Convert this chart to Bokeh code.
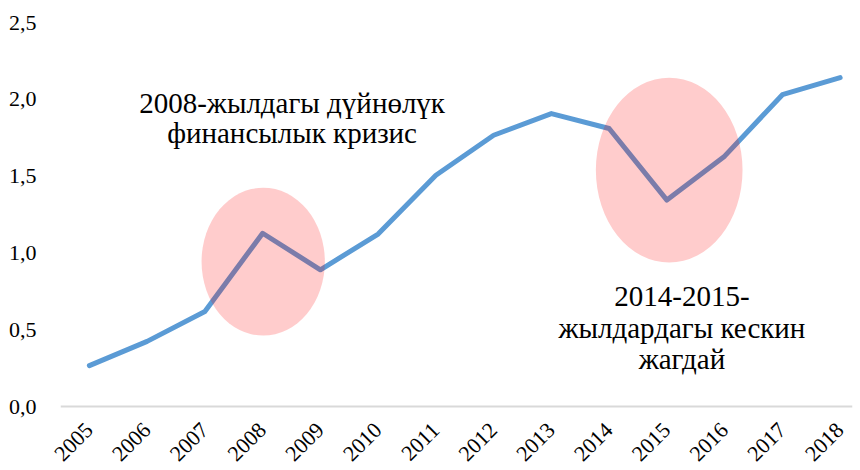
import math
from bokeh.plotting import figure
from bokeh.models import ColumnDataSource, FixedTicker, Range1d, Span
from bokeh.core.properties import value
from bokeh.embed import file_html
from bokeh.resources import INLINE

# ---- data ----
years = [2005, 2006, 2007, 2008, 2009, 2010, 2011, 2012, 2013, 2014, 2015, 2016, 2017, 2018]
values = [0.266, 0.424, 0.619, 1.128, 0.890, 1.123, 1.506, 1.766, 1.907, 1.810, 1.344, 1.630, 2.030, 2.141]
y_ticks = [0.0, 0.5, 1.0, 1.5, 2.0, 2.5]
y_tick_labels = ["0,0", "0,5", "1,0", "1,5", "2,0", "2,5"]

# highlighted periods (ellipses) in data units
ell_x = [2008.01, 2015.04]
ell_y = [0.943, 1.539]
ell_w = [2.135, 2.54]
ell_h = [0.963, 1.203]

# annotation text lines
note_lines = ["2008-жылдагы дүйнөлүк", "финансылык кризис",
              "2014-2015-", "жылдардагы кескин", "жагдай"]
note_x = [2008.51, 2008.51, 2015.26, 2015.26, 2015.26]
note_y = [1.974, 1.779, 0.714, 0.513, 0.312]

FONT = "Liberation Serif"

p = figure(width=860, height=470, output_backend="svg", toolbar_location=None,
           x_range=Range1d(2004.5, 2018.214), y_range=Range1d(-0.052, 2.5),
           min_border_left=60, min_border_right=8, min_border_top=22, min_border_bottom=55)
p.outline_line_color = None
p.background_fill_color = "white"
p.border_fill_color = "white"
p.xgrid.visible = False
p.ygrid.visible = False

# y axis
p.yaxis.ticker = FixedTicker(ticks=y_ticks)
p.yaxis.major_label_overrides = {t: l for t, l in zip(y_ticks, y_tick_labels)}
p.yaxis.axis_line_color = None
p.yaxis.major_tick_line_color = None
p.yaxis.minor_tick_line_color = None
p.yaxis.major_label_standoff = 18
p.yaxis.major_label_text_font = FONT
p.yaxis.major_label_text_font_size = "22px"
p.yaxis.major_label_text_color = "#000000"

# x axis
p.xaxis.ticker = FixedTicker(ticks=years)
p.xaxis.major_label_overrides = {y: str(y) for y in years}
p.xaxis.axis_line_color = None
p.xaxis.major_tick_line_color = None
p.xaxis.minor_tick_line_color = None
p.xaxis.major_label_orientation = math.pi / 4
p.xaxis.major_label_standoff = 6
p.xaxis.major_label_text_font = FONT
p.xaxis.major_label_text_font_size = "22px"
p.xaxis.major_label_text_color = "#000000"

# horizontal axis line at zero
p.add_layout(Span(location=0, dimension="width", line_color="#d9d9d9", line_width=2))

src = ColumnDataSource(dict(x=years, y=values))
p.line("x", "y", source=src, line_color="#5b9bd5", line_width=5,
       line_cap="round", line_join="round")

esrc = ColumnDataSource(dict(x=ell_x, y=ell_y, w=ell_w, h=ell_h))
p.ellipse(x="x", y="y", width="w", height="h", source=esrc,
          fill_color="#ff0000", fill_alpha=0.2, line_color=None)

tsrc = ColumnDataSource(dict(x=note_x, y=note_y, t=note_lines))
p.text(x="x", y="y", text="t", source=tsrc, text_font=value(FONT),
       text_font_size="29px", text_align="center", text_baseline="alphabetic",
       text_color="#000000")

open("out.html", "w").write(file_html(p, INLINE))
